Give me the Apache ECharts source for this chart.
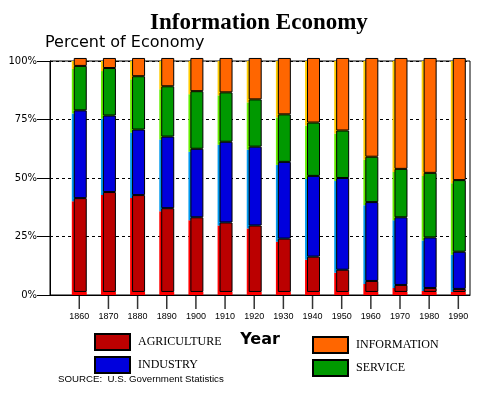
<!DOCTYPE html>
<html><head><meta charset="utf-8">
<script src="https://cdn.jsdelivr.net/npm/echarts@6/dist/echarts.min.js"></script>
<style>html,body{margin:0;padding:0;background:#fff}#c{width:495px;height:394px}</style>
</head><body><div id="c"></div>
<script>
const years = [1860,1870,1880,1890,1900,1910,1920,1930,1940,1950,1960,1970,1980,1990];
const agriculture = [40.1,42.7,41.4,35.8,31.9,29.7,28.4,22.8,15.1,9.5,4.7,3.0,1.7,1.3];
const industry    = [37.5,32.7,28.0,30.6,29.3,34.5,33.7,32.8,34.5,39.2,33.7,28.9,21.6,15.9];
const service     = [19.0,20.3,22.8,21.5,24.6,21.1,20.2,20.3,22.8,20.3,19.4,20.7,27.6,30.6];
const information = [3.4,4.3,7.8,12.1,14.2,14.7,17.7,24.1,27.6,31.0,42.2,47.4,49.1,52.2];
const yTicks = [0,25,50,75,100];

const DEPTH = 1.3; // 3D bottom-edge depth in % units (style only)
const layers = [
  {name:'AGRICULTURE', data:agriculture, front:'#bb0000', back:'#ff0000'},
  {name:'INDUSTRY', data:industry, front:'#0000dd', back:'#0099ee'},
  {name:'SERVICE', data:service, front:'#009900', back:'#66ee00'},
  {name:'INFORMATION', data:information, front:'#ff6600', back:'#ffcc00'}
];
const barCommon = {type:'bar', xAxisIndex:1, yAxisIndex:1, barWidth:13, barGap:'-85%', clip:false};
const series = [];
layers.forEach(l=>{
  series.push(Object.assign({}, barCommon, {name:'_back_'+l.name, stack:'back',
    data:l.data, itemStyle:{color:l.back}, silent:true, z:2}));
});
series.push(Object.assign({}, barCommon, {name:'_base', stack:'front',
  data:years.map(()=>DEPTH), itemStyle:{color:'#ff0000'}, silent:true, z:3}));
layers.forEach(l=>{
  series.push(Object.assign({}, barCommon, {name:l.name, stack:'front',
    data:l.data, itemStyle:{color:l.front, borderColor:'#000', borderWidth:1}, z:3}));
});
// year tick marks below the axis, placed by the category scale at the baseline
series.push({type:'scatter', name:'_ticks', xAxisIndex:1, yAxisIndex:1, data:years.map(()=>0),
  symbol:'rect', symbolSize:[1.5,14], symbolOffset:[0,7], itemStyle:{color:'#000'}, silent:true, clip:false, z:4});

const G = {top:61, bottom:99};
const chart = echarts.init(document.getElementById('c'));
chart.setOption({
  animation:false,
  backgroundColor:'#fff',
  title:[
    {text:'Information Economy', left:150, top:12, padding:0,
      textStyle:{fontFamily:'Liberation Serif', fontWeight:'bold', fontSize:23, color:'#000'}},
    {text:'Percent of Economy', left:45, top:35, padding:0,
      textStyle:{fontFamily:'DejaVu Sans', fontWeight:'normal', fontSize:16, color:'#000'}},
    {text:'SOURCE:  U.S. Government Statistics', left:58, top:374, padding:0,
      textStyle:{fontFamily:'Liberation Sans', fontWeight:'normal', fontSize:9.7, color:'#000'}}
  ],
  grid:[
    {left:50, right:25, top:G.top, bottom:G.bottom, show:true, borderColor:'#000', borderWidth:1, backgroundColor:'transparent'},
    {left:64.7, right:22.1, top:G.top, bottom:G.bottom, show:false}
  ],
  legend:[
    {data:['AGRICULTURE','INDUSTRY'], orient:'vertical', left:94, top:333, padding:0, itemWidth:35, itemHeight:16, itemGap:5,
      icon:'rect', selectedMode:false,
      textStyle:{fontFamily:'Liberation Serif', fontSize:12, color:'#000', padding:[0,0,0,3]}},
    {data:['INFORMATION','SERVICE'], orient:'vertical', left:312, top:336, padding:0, itemWidth:35, itemHeight:16, itemGap:5,
      icon:'rect', selectedMode:false,
      textStyle:{fontFamily:'Liberation Serif', fontSize:12, color:'#000', padding:[0,0,0,3]}}
  ],
  xAxis:[
    {type:'value', gridIndex:0, min:1850, max:1994, interval:10,
      name:'Year', nameLocation:'middle', nameGap:37,
      nameTextStyle:{fontFamily:'DejaVu Sans', fontWeight:'bold', fontSize:16, color:'#000'},
      axisLine:{show:true, lineStyle:{color:'#000', width:1}},
      axisTick:{show:false}, axisLabel:{show:false}, splitLine:{show:false}},
    {type:'category', gridIndex:1, data:years, boundaryGap:true, position:'bottom',
      axisLine:{show:false},
      axisTick:{show:false},
      axisLabel:{show:true, interval:0, margin:17, fontFamily:'Liberation Sans', fontSize:9, color:'#000'},
      splitLine:{show:false}}
  ],
  yAxis:[
    {type:'value', gridIndex:0, min:0, max:100, interval:25,
      axisLine:{show:true, lineStyle:{color:'#000', width:1}},
      axisTick:{show:true, length:13, inside:false, lineStyle:{color:'#000'}},
      axisLabel:{margin:13, fontFamily:'DejaVu Sans', fontSize:10, color:'#000', formatter:v=>v+'%'},
      splitLine:{show:true, lineStyle:{color:'#000', type:[3,3], width:1}}},
    {type:'value', gridIndex:1, min:0, max:100, show:false}
  ],
  series:series
});
</script></body></html>
